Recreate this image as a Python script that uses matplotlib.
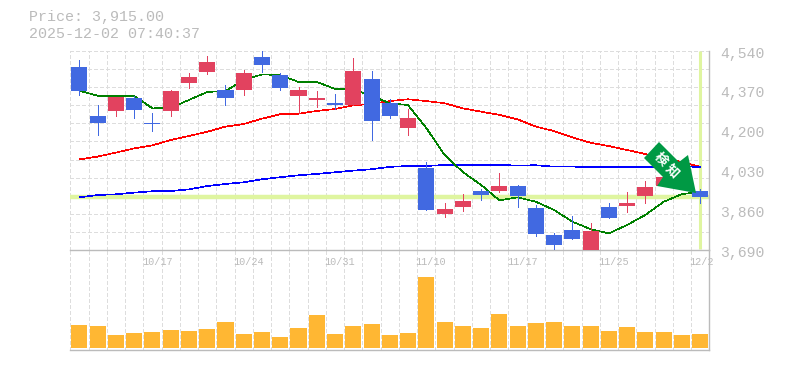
import numpy as np
import matplotlib
matplotlib.use("Agg")
import matplotlib.pyplot as plt
from matplotlib.patches import Polygon
from matplotlib.transforms import ScaledTranslation, Affine2D

opens = [4472,4262,4284,4339,4232,4284,4403,4450,4373,4373,4514,4437,4348,4331,4318,4309,4420,4318,4211,4040,
         3844,3874,3942,3942,3963,3869,3754,3775,3686,3874,3878,3921,3963,4010,3942]
closes = [4370,4234,4344,4289,4228,4369,4429,4493,4339,4446,4480,4382,4373,4339,4309,4455,4241,4262,4254,3861,
          3865,3899,3925,3963,3921,3758,3711,3737,3771,3827,3891,3959,4002,3968,3915]
highs = [4502,4309,4344,4348,4275,4375,4446,4519,4395,4459,4544,4446,4386,4369,4356,4510,4455,4335,4292,4066,
         3891,3929,3951,4019,3968,3882,3763,3835,3805,3891,3938,3985,4002,4015,3951]
lows = [4353,4182,4262,4254,4198,4262,4382,4442,4309,4352,4450,4373,4275,4301,4292,4309,4160,4254,4181,3861,
        3831,3857,3904,3938,3874,3750,3686,3737,3686,3827,3852,3891,3963,3960,3891]
ma_short = [4370,4349,4349,4348,4295,4297,4331,4365,4369,4416,4440,4437,4408,4408,4378,4376,4348,4317,4309,4211,
            4096,4023,3968,3902,3915,3896,3861,3811,3779,3761,3797,3840,3896,3929,3938]
ma_mid = [4077,4089,4106,4124,4137,4160,4177,4195,4217,4228,4251,4270,4272,4284,4292,4308,4314,4326,4334,4326,
          4317,4295,4281,4267,4248,4217,4198,4171,4148,4134,4117,4100,4083,4066,4045]
ma_long = [3915,3925,3928,3935,3941,3942,3949,3963,3972,3979,3992,4001,4009,4015,4022,4029,4035,4045,4049,4049,
           4053,4053,4053,4053,4051,4052,4046,4046,4045,4045,4045,4045,4045,4047,4045]
volumes = [23,22,13,15,16,18,17,19,26,14,16,11,20,33,14,22,24,13,15,71,
           26,22,20,34,22,25,26,22,22,17,21,16,16,13,14]
date_labels = ["10/17","10/24","10/31","11/10","11/17","11/25","12/2"]
date_slots = [4,9,14,19,24,29,34]
price_ticks = [4540,4370,4200,4030,3860,3690]
last_price = 3915

W, H = 785, 370
GRAY = "#bbbbbb"; GRID = "#dddddd"; UP = "#e2425f"; DOWN = "#4169e1"
HILITE = "#dff5a0"; MONO = "Liberation Mono"
plt.rcParams["font.family"] = MONO

def axes_px(x0, y0, x1, y1):
    return [x0/W, 1-y1/H, (x1-x0)/W, (y1-y0)/H]

fig = plt.figure(figsize=(W/100, H/100), dpi=100, facecolor="white")
vax = fig.add_axes(axes_px(70.3, 250, 709.3, 350))
ax = fig.add_axes(axes_px(70.3, 51, 709.3, 250))
vax.patch.set_visible(False); ax.patch.set_visible(False)
n = len(opens); x = np.arange(n); edges = np.arange(n+1)-0.5

for a in (ax, vax):
    a.set_xlim(-0.5, n-0.5)
    a.set_xticks(edges, minor=True)
    a.xaxis.remove_overlapping_locs = False
    a.tick_params(which="both", length=0)
    a.set_axisbelow(True)
    a.grid(which="minor", axis="x", color=GRID, lw=0.72, ls=(0, (3.6, 2.8)), antialiased=False)
    for s in ("top", "left"):
        a.spines[s].set_visible(False)
    for s in ("right", "bottom"):
        a.spines[s].set_color(GRAY); a.spines[s].set_linewidth(1.0)

ax.set_ylim(price_ticks[-1], price_ticks[0])
ax.set_yticks(np.linspace(price_ticks[-1], price_ticks[0], 12), minor=True)
ax.yaxis.remove_overlapping_locs = False
ax.grid(which="minor", axis="y", color=GRID, lw=0.72, ls=(0, (3.6, 2.8)), antialiased=False)
ax.yaxis.tick_right()
ax.set_yticks(price_ticks)
ax.set_yticklabels([f"{v:,}" for v in price_ticks], fontsize=10.6, color=GRAY)
ax.tick_params(axis="y", which="major", pad=8)
off = ScaledTranslation(0, -1/100, fig.dpi_scale_trans)
for lb in ax.get_yticklabels():
    lb.set_transform(lb.get_transform() + off)
ax.set_xticks([edges[s] for s in date_slots])
ax.set_xticklabels(date_labels, fontsize=7.3, color=GRAY, ha="left")
ax.tick_params(axis="x", which="major", pad=5)
xoff = ScaledTranslation(-1.5/100, 0, fig.dpi_scale_trans)
for lb in ax.get_xticklabels():
    lb.set_transform(lb.get_transform() + xoff)

# highlights of last price and last bar
ax.axhline(last_price, color=HILITE, lw=3.2, zorder=1.5, solid_capstyle="butt")
ax.axvline(x[-1], color=HILITE, lw=2.2, zorder=1.5, solid_capstyle="butt", ymin=0.005)

# moving averages
ax.plot(x, ma_mid, color="#ff0000", lw=0.45, antialiased=False, zorder=2)
ax.plot(x, ma_long, color="#0000ff", lw=0.45, antialiased=False, zorder=2)
ax.plot(x, ma_short, color="#008000", lw=0.45, antialiased=False, zorder=2)

# candles
for i in range(n):
    c = UP if closes[i] >= opens[i] else DOWN
    ax.vlines(x[i], lows[i], highs[i], color=c, lw=0.7, antialiased=False, zorder=3)
    ax.bar(x[i], abs(closes[i]-opens[i]), bottom=min(opens[i], closes[i]), width=0.88,
           color=c, antialiased=False, zorder=4)

# volume
vax.bar(x, volumes, width=0.88, color="#ffb733", antialiased=False, zorder=3)
vax.set_ylim(-2, 98)
vax.set_yticks([]); vax.set_xticks([])

# header
fig.text(29/W, 1-17.5/H, "Price: 3,915.00", fontsize=10.8, color=GRAY, va="center", ha="left")
fig.text(29/W, 1-33.5/H, "2025-12-02 07:40:37", fontsize=10.8, color=GRAY, va="center", ha="left")

# signal arrow, placed in figure pixels
px = Affine2D().scale(1/W, -1/H).translate(0, 1) + fig.transFigure
arrow = [(659,142),(644,158),(663,177),(657,186),(696,193),(688,155),(679,162)]
fig.add_artist(Polygon(arrow, closed=True, facecolor="#009944", edgecolor="none", transform=px, zorder=10))
for (tx, ty, ch) in [(661,159,"検"),(672,171,"知")]:
    fig.text(tx/W, 1-ty/H, ch, family=["Noto Sans CJK JP"], fontsize=9.5, weight="bold", color="white",
             rotation=-45, ha="center", va="center", zorder=11)

fig.savefig("out.png", dpi=100, facecolor="white")
